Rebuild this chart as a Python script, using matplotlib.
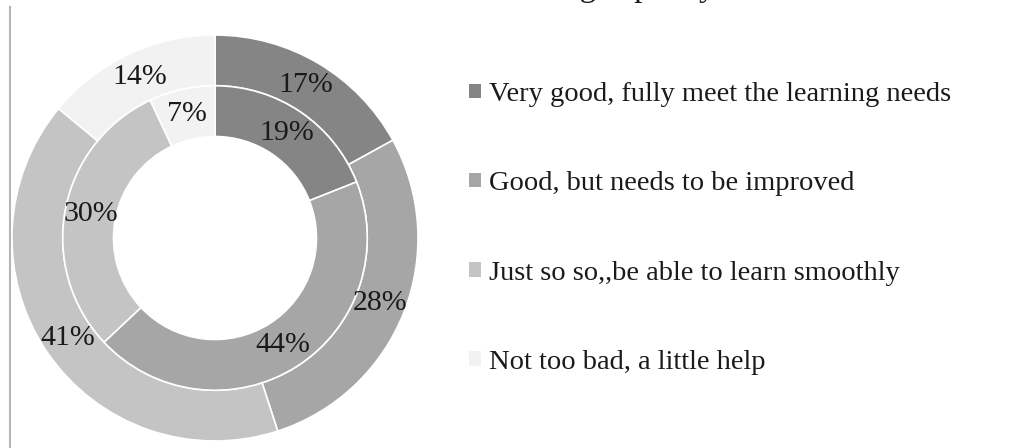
import matplotlib

matplotlib.use("Agg")

import matplotlib.pyplot as plt
from matplotlib.lines import Line2D
from matplotlib.patches import Patch


CATEGORIES = [
    "Very good, fully meet the learning needs",
    "Good, but needs to be improved",
    "Just so so,,be able to learn smoothly",
    "Not too bad, a little help",
]
OUTER_VALUES = [17, 28, 41, 14]
INNER_VALUES = [19, 44, 30, 7]
COLORS = ["#858585", "#a6a6a6", "#c4c4c4", "#f2f2f2"]
TITLE = "Evaluation of learning capacity"

plt.rcParams["font.family"] = ["Liberation Serif", "DejaVu Serif"]

W, H = 1023, 448
fig = plt.figure(figsize=(W / 100, H / 100), dpi=100)

# donut centre (215, 238) px from top-left, outer radius 203 px
cx, cy, r = 215, 238, 203
ax = fig.add_axes([(cx - r) / W, (H - cy - r) / H, 2 * r / W, 2 * r / H])

wedge_style = dict(width=0.25, edgecolor="white", linewidth=1.2)
ax.pie(
    OUTER_VALUES,
    radius=1.0,
    colors=COLORS,
    startangle=90,
    counterclock=False,
    autopct="%d%%",
    pctdistance=0.875,
    wedgeprops=wedge_style,
    textprops=dict(fontsize=21.5, color="#1a1a1a"),
)
ax.pie(
    INNER_VALUES,
    radius=0.75,
    colors=COLORS,
    startangle=90,
    counterclock=False,
    autopct="%d%%",
    pctdistance=0.625 / 0.75,
    wedgeprops=wedge_style,
    textprops=dict(fontsize=21.5, color="#1a1a1a"),
)
ax.set_xlim(-1, 1)
ax.set_ylim(-1, 1)
ax.set_aspect("equal")
ax.axis("off")

handles = [Patch(facecolor=c, edgecolor="none") for c in COLORS]
fig.legend(
    handles,
    CATEGORIES,
    loc="upper left",
    bbox_to_anchor=(458 / W, 1 - 71 / H),
    frameon=False,
    fontsize=20.5,
    handlelength=0.4,
    handleheight=0.4,
    handletextpad=0.3,
    labelspacing=2.25,
    borderaxespad=0,
    labelcolor="#1a1a1a",
)

# title mostly cut off above the image edge
fig.text(716 / W, 1 + 4 / H, TITLE, ha="right", va="baseline", fontsize=24, color="#1a1a1a")

# thin border line on the left
fig.add_artist(Line2D([10 / W, 10 / W], [0, 1 - 7 / H], color="#b5b5b5", linewidth=1.5))

fig.savefig("out.png", dpi=100)
